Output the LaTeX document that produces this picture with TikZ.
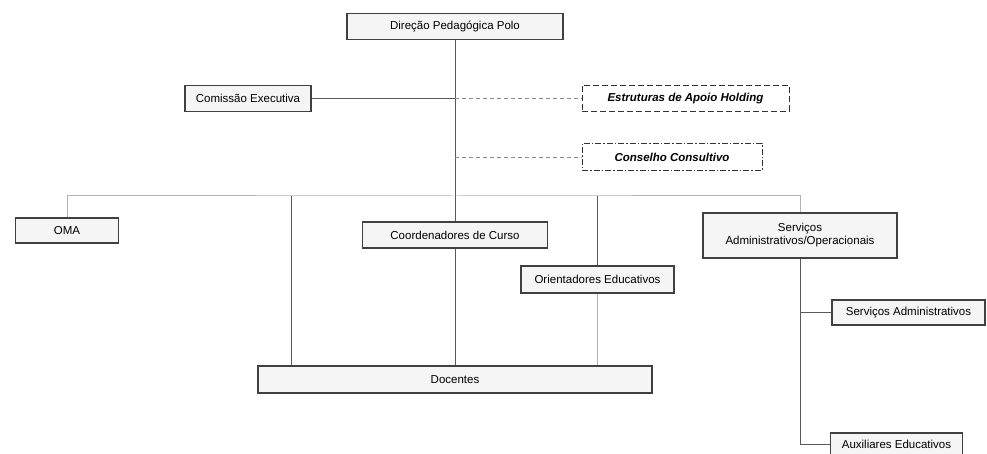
\documentclass[tikz,border=0pt]{standalone}
\usepackage{fontspec}
\setmainfont{Liberation Sans}
\usetikzlibrary{positioning}

\begin{document}
\begin{tikzpicture}[
    x=1pt, y=-1pt,
    font=\fontsize{11.5}{13}\selectfont,
    unit/.style={draw=black!75, line width=1.1pt, fill=gray!8, rectangle, minimum height=26pt, inner sep=2pt, align=center},
    holding/.style={unit, fill=white, draw=black!80, line width=0.9pt, dash pattern=on 6pt off 3pt, font=\fontsize{11.5}{13}\selectfont\bfseries\itshape},
    advisory/.style={holding, dash pattern=on 6pt off 2pt on 1.5pt off 2pt},
    link/.style={draw=black!65, line width=0.8pt},
    weak/.style={draw=black!30, line width=1pt},
    dlink/.style={draw=black!45, line width=0.8pt, dash pattern=on 4pt off 3pt}
]
\useasboundingbox (0,0) rectangle (987,454);

% Top
\node[unit, minimum width=216pt] (direcao) at (455,26.5) {Direção Pedagógica Polo};
\node[unit, minimum width=126pt] (comissao) at (248,98.5) {Comissão Executiva};
\node[holding, minimum width=207pt] (estruturas) at (685.5,98.5) {Estruturas de Apoio Holding};
\node[advisory, minimum width=180pt, minimum height=27pt] (conselho) at (672,157) {Conselho Consultivo};

% Middle
\node[unit, minimum width=103pt, minimum height=25pt] (oma) at (67,230.5) {OMA};
\node[unit, minimum width=185pt] (coordenadores) at (455,235) {Coordenadores de Curso};
\node[unit, minimum width=153pt, minimum height=27pt] (orientadores) at (597.5,279.5) {Orientadores Educativos};
\node[unit, minimum width=194pt, minimum height=45pt] (servicos) at (800,235.5) {Serviços\\Administrativos/Operacionais};

% Bottom
\node[unit, minimum width=394pt, minimum height=27pt] (docentes) at (455,379.5) {Docentes};
\node[unit, minimum width=153pt, minimum height=25pt] (admin) at (908.5,312.5) {Serviços Administrativos};
\node[unit, minimum width=132pt, minimum height=22pt] (auxiliares) at (896.5,444) {Auxiliares Educativos};

% Bus points
\coordinate (bus) at (455,196);
\coordinate (busA) at (291,196);
\coordinate (busB) at (597.5,196);

% Connections
\draw[link] (direcao) -- (coordenadores);
\draw[link] (coordenadores) -- (docentes);
\draw[link] (comissao) -- (comissao -| direcao);
\draw[dlink] (comissao -| direcao) -- (estruturas);
\draw[dlink] (conselho -| direcao) -- (conselho);
\draw[weak] (oma) |- (bus) -| (servicos);
\draw[link] (busA) -- (busA |- docentes.north);
\draw[link] (busB) -- (orientadores);
\draw[weak] (orientadores) -- (orientadores |- docentes.north);
\draw[link] (servicos) |- (admin);
\draw[link] (servicos) |- (auxiliares);

\end{tikzpicture}
\end{document}
